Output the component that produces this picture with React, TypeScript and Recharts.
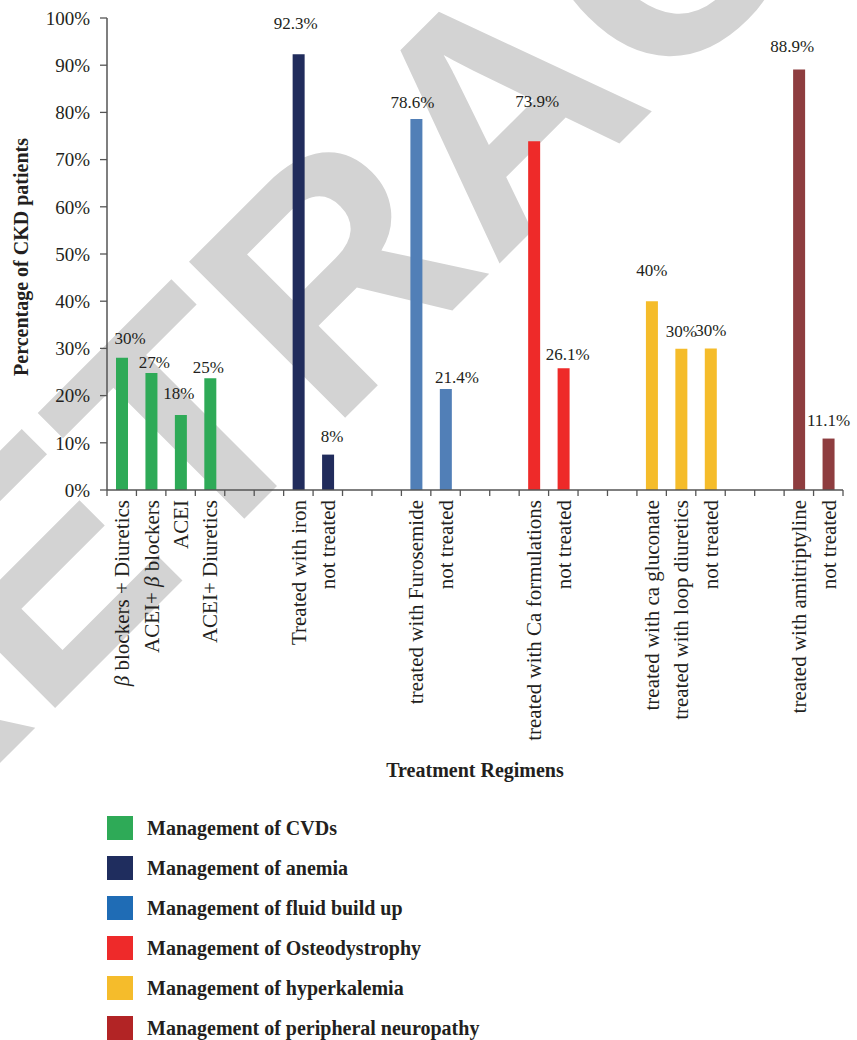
import React from 'react';
import { BarChart, Bar, XAxis, YAxis, Cell, LabelList, Label, Legend } from 'recharts';

// ---------- data ----------
const categories = [
  'β blockers + Diuretics', 'ACEI+ β blockers', 'ACEI', 'ACEI+ Diuretics', '', '',
  'Treated with iron', 'not treated', '', '',
  'treated with Furosemide', 'not treated', '', '',
  'treated with Ca formulations', 'not treated', '', '',
  'treated with ca gluconate', 'treated with loop diuretics', 'not treated', '', '',
  'treated with amitriptyline', 'not treated',
];
const values = [
  28, 24.8, 15.9, 23.7, null, null,
  92.3, 7.5, null, null,
  78.6, 21.4, null, null,
  73.9, 25.8, null, null,
  40, 29.9, 30, null, null,
  89.1, 10.9,
];
const valueLabels = [
  '30%', '27%', '18%', '25%', '', '',
  '92.3%', '8%', '', '',
  '78.6%', '21.4%', '', '',
  '73.9%', '26.1%', '', '',
  '40%', '30%', '30%', '', '',
  '88.9%', '11.1%',
];
const groups = [
  0, 0, 0, 0, -1, -1,
  1, 1, -1, -1,
  2, 2, -1, -1,
  3, 3, -1, -1,
  4, 4, 4, -1, -1,
  5, 5,
];
const groupNames = [
  'Management of CVDs',
  'Management of anemia',
  'Management of fluid build up',
  'Management of Osteodystrophy',
  'Management of hyperkalemia',
  'Management of peripheral neuropathy',
];
const yTicks = [0, 10, 20, 30, 40, 50, 60, 70, 80, 90, 100];

// ---------- styles ----------
const barColors = ['#2eaa57', '#212c5c', '#517fb7', '#ee2a29', '#f5bc2a', '#8e3d3f'];
const legendColors = ['#2eaa57', '#1f2d5e', '#1f6cb5', '#ee2a2a', '#f5bc2b', '#b22425'];
const labelLift = [20, 11, 22, 11, 0, 0, 31, 19, 0, 0, 17, 12, 0, 0, 40, 14, 0, 0, 31, 18, 18, 0, 0, 23, 19];
const labelDx = [8, 3, -2, -2, 0, 0, -3, 4, 0, 0, -4, 11, 0, 0, 3, 4, 0, 0, 0, 0, 0, 0, 0, -7, 0];
const FONT = '"Liberation Serif", "Times New Roman", serif';
const TEXT = '#231f20';
const AXIS = '#555555';
const SLOT = 736 / categories.length;

const data = categories.map((name, i) => ({
  idx: i,
  name,
  value: values[i],
  group: groups[i],
}));

const renderCatText = (name: string) => {
  if (!name.includes('β')) return name;
  const parts = name.split('β');
  const out: any[] = [];
  parts.forEach((p, i) => {
    if (i > 0) out.push(<tspan key={'b' + i} fontStyle="italic">β</tspan>);
    out.push(<tspan key={'p' + i}>{p}</tspan>);
  });
  return out;
};

const XTick = (props: any) => {
  const { x, y, payload, index } = props;
  const name = payload?.value ?? '';
  const last = index === categories.length - 1;
  return (
    <g>
      <line x1={x - SLOT / 2} x2={x - SLOT / 2} y1={y} y2={y + 6} stroke={AXIS} strokeWidth={1.3} />
      {last && <line x1={x + SLOT / 2} x2={x + SLOT / 2} y1={y} y2={y + 6} stroke={AXIS} strokeWidth={1.3} />}
      {name && (
        <text
          transform={`translate(${x},${y + 10}) rotate(-90)`}
          textAnchor="end"
          dy="0.35em"
          fontFamily={FONT}
          fontSize={21}
          fill={TEXT}
        >
          {renderCatText(name)}
        </text>
      )}
    </g>
  );
};

const ValueLabel = (props: any) => {
  const i = Number(props.value);
  if (!Number.isFinite(i)) return null;
  const text = valueLabels[i];
  if (!text) return null;
  const vb = props.viewBox || props;
  const x = (vb.x ?? props.x) + (vb.width ?? props.width) / 2;
  const y = vb.y ?? props.y;
  return (
    <text
      x={x + (labelDx[i] || 0)}
      y={y - (labelLift[i] || 0)}
      dy="0.35em"
      textAnchor="middle"
      fontFamily={FONT}
      fontSize={17}
      fill={TEXT}
    >
      {text}
    </text>
  );
};

const YTitle = (props: any) => {
  const vb = props.viewBox || {};
  const cy = (vb.y ?? 18) + (vb.height ?? 472) / 2 + 3;
  return (
    <text
      transform={`translate(28,${cy}) rotate(-90)`}
      textAnchor="middle"
      fontFamily={FONT}
      fontWeight="bold"
      fontSize={20}
      fill={TEXT}
    >
      Percentage of CKD patients
    </text>
  );
};

const XTitle = (props: any) => {
  const vb = props.viewBox || {};
  const cx = (vb.x ?? 107) + (vb.width ?? 736) / 2;
  const by = (vb.y ?? 490) + 287;
  return (
    <text x={cx} y={by} textAnchor="middle" fontFamily={FONT} fontWeight="bold" fontSize={20} fill={TEXT}>
      Treatment Regimens
    </text>
  );
};

const LegendContent = () => (
  <div style={{ fontFamily: FONT }}>
    {groupNames.map((g, i) => (
      <div key={g} style={{ display: 'flex', alignItems: 'center', height: 40 }}>
        <div style={{ width: 26, height: 24, background: legendColors[i] }} />
        <span style={{ marginLeft: 14, fontWeight: 'bold', fontSize: 20, color: TEXT, whiteSpace: 'nowrap' }}>{g}</span>
      </div>
    ))}
  </div>
);

export default function App() {
  return (
    <div style={{ position: 'absolute', left: 0, top: 0, width: 857, height: 1040, background: '#fff', overflow: 'hidden' }}>
      <svg width={857} height={1040} style={{ position: 'absolute', left: 0, top: 0 }}>
        <text
          transform="translate(-124,887) rotate(-45)"
          fontFamily='"Liberation Sans", Arial, sans-serif'
          fontWeight="bold"
          fontSize={321}
          fill="#d3d3d3"
        >
          RETRACTED
        </text>
      </svg>
      <div style={{ position: 'absolute', left: 0, top: 0 }}>
        <BarChart
          width={857}
          height={1040}
          data={data}
          margin={{ top: 18, right: 14, left: 0, bottom: 0 }}
          barSize={12}
        >
          <XAxis
            dataKey="name"
            height={550}
            interval={0}
            tickSize={0}
            tickMargin={0}
            tickLine={false}
            tick={<XTick />}
            axisLine={{ stroke: AXIS, strokeWidth: 1.5 }}
          >
            <Label content={<XTitle />} />
          </XAxis>
          <YAxis
            width={107}
            domain={[0, 100]}
            ticks={yTicks}
            interval={0}
            tickFormatter={(v: number) => `${v}%`}
            tickSize={7}
            tickMargin={10}
            tickLine={{ stroke: AXIS, strokeWidth: 1.3 }}
            axisLine={{ stroke: AXIS, strokeWidth: 1.5 }}
            tick={{ fontFamily: FONT, fontSize: 19, fill: TEXT }}
          >
            <Label content={<YTitle />} />
          </YAxis>
          <Legend
            layout="vertical"
            align="center"
            verticalAlign="middle"
            content={<LegendContent />}
            wrapperStyle={{ left: 107, top: 808, width: 500, height: 240 }}
          />
          <Bar dataKey="value" isAnimationActive={false}>
            {data.map((d, i) => (
              <Cell key={i} fill={d.group >= 0 ? barColors[d.group] : 'transparent'} />
            ))}
            <LabelList dataKey="idx" content={<ValueLabel />} />
          </Bar>
        </BarChart>
      </div>
    </div>
  );
}
